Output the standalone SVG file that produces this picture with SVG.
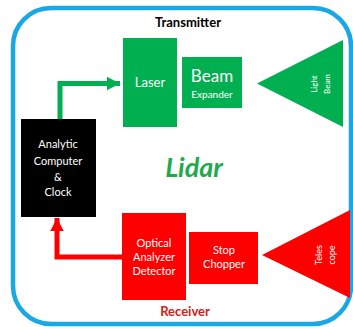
<svg xmlns="http://www.w3.org/2000/svg" width="353" height="327" viewBox="0 0 353 327">
  <style>
    text { font-family: Lato, "Open Sans", "Liberation Sans", sans-serif; }
    .wt { fill: #ffffff; text-anchor: middle; }
    .green { fill: #00b050; }
    .red { fill: #ff0000; }
    .title { font-weight: bold; font-size: 13px; text-anchor: middle; }
  </style>
  <defs>
    <marker id="headG" markerWidth="3" markerHeight="3" refX="2.6" refY="1.35" orient="auto" markerUnits="strokeWidth">
      <path d="M0,0 L2.6,1.35 L0,2.7 z" fill="#00b050"/>
    </marker>
    <marker id="headR" markerWidth="3" markerHeight="3" refX="2.6" refY="1.35" orient="auto" markerUnits="strokeWidth">
      <path d="M0,0 L2.6,1.35 L0,2.7 z" fill="#ff0000"/>
    </marker>
  </defs>

  <rect x="0" y="0" width="353" height="327" fill="#ffffff"/>
  <!-- outer frame -->
  <rect x="13" y="8" width="338" height="316" rx="38" ry="38" fill="none" stroke="#1aa7e6" stroke-width="4.5"/>

  <text x="188" y="27" class="title" fill="#000000">Transmitter</text>
  <text x="185" y="316" class="title" fill="#d42020">Receiver</text>

  <text x="194" y="177" font-size="27" font-weight="bold" font-style="italic" text-anchor="middle" fill="#1faa50">Lidar</text>

  <!-- connectors -->
  <g id="connectors" fill="none" stroke-width="5">
    <path d="M60,119 V83.5 H120" stroke="#00b050" marker-end="url(#headG)"/>
    <path d="M122,257 H57 V218" stroke="#ff0000" marker-end="url(#headR)"/>
  </g>

  <g id="computer">
    <rect x="21" y="119" width="75" height="98" fill="#000000"/>
    <text class="wt" font-size="11"><tspan x="58" y="148">Analytic</tspan><tspan x="58" y="165">Computer</tspan><tspan x="58" y="181">&amp;</tspan><tspan x="58" y="196">Clock</tspan></text>
  </g>

  <g id="laser">
    <rect x="123" y="38" width="54" height="89" class="green"/>
    <text x="150" y="87" class="wt" font-size="13">Laser</text>
  </g>

  <g id="beam-expander">
    <rect x="182" y="57" width="60" height="51" class="green"/>
    <text x="212" y="82" class="wt" font-size="17">Beam</text>
    <text x="212" y="98" class="wt" font-size="10">Expander</text>
  </g>

  <g id="light-beam">
    <polygon points="257,83.5 343,40 343,127" class="green"/>
    <text class="wt" font-size="8" transform="translate(317,84) rotate(-90)">Light</text>
    <text class="wt" font-size="8" transform="translate(330,84) rotate(-90)">Beam</text>
  </g>

  <g id="detector">
    <rect x="122" y="213" width="64" height="87" class="red"/>
    <text class="wt" font-size="11"><tspan x="154" y="247">Optical</tspan><tspan x="154" y="261">Analyzer</tspan><tspan x="154" y="275">Detector</tspan></text>
  </g>

  <g id="chopper">
    <rect x="189" y="232" width="69" height="52" class="red"/>
    <text class="wt" font-size="11"><tspan x="224" y="254">Stop</tspan><tspan x="224" y="268">Chopper</tspan></text>
  </g>

  <g id="telescope">
    <polygon points="262,255 350,210 350,298" class="red"/>
    <text class="wt" font-size="9" transform="translate(322,255) rotate(-90)">Teles</text>
    <text class="wt" font-size="9" transform="translate(335,255) rotate(-90)">cope</text>
  </g>
</svg>
